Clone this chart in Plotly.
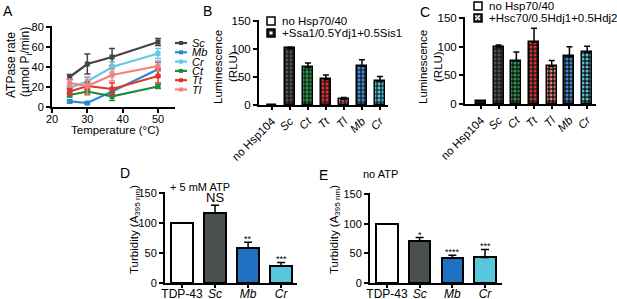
import plotly.graph_objects as go

W, H = 617, 299
FONT = "Liberation Sans, Arial, sans-serif"

# ---------------- data ----------------
# Panel A: ATPase rate vs temperature
temps = [25, 30, 37, 50]
a_names = ["Sc", "Mb", "Cr", "Ct", "Tt", "Tl"]
a_colors = ["#444444", "#2b86d4", "#62c9e6", "#1e8c3c", "#e3342c", "#f3827c"]
a_vals = {
    "Sc": [30, 43, 50, 65],
    "Mb": [5.6, 4, 15.5, 37.7],
    "Cr": [19, 25.5, 40, 53.5],
    "Ct": [12, 15.5, 10.6, 20.5],
    "Tt": [15.5, 21, 18, 31],
    "Tl": [24, 21, 32, 41],
}
a_errs = {
    "Sc": [2.5, 10, 8.5, 3.5],
    "Mb": [1.5, 1, 3, 7],
    "Cr": [3, 4, 5, 5],
    "Ct": [2, 3, 4, 2],
    "Tt": [3, 4, 6, 7],
    "Tl": [4, 9, 6, 5],
}

# Panels B and C: luminescence
bc_cats = ["no Hsp104", "Sc", "Ct", "Tt", "Tl", "Mb", "Cr"]
bc_ticktext = ["no Hsp104", "<i>Sc</i>", "<i>Ct</i>", "<i>Tt</i>", "<i>Tl</i>", "<i>Mb</i>", "<i>Cr</i>"]
bc_colors = ["#333333", "#505050", "#24a04a", "#d8302c", "#ec7a78", "#3a8ad8", "#4fc4e2"]
b_vals = [0, 101, 67, 45.6, 10, 69, 43]
b_errs = [0, 2, 8, 8, 3.5, 12, 8]
c_vals = [5.8, 99.4, 75.6, 108, 65.7, 83, 90.7]
c_errs = [0, 3.5, 15, 24, 10, 17, 10]

# Panels D and E: turbidity
de_cats = ["TDP-43", "Sc", "Mb", "Cr"]
de_ticktext = ["TDP-43", "<i>Sc</i>", "<i>Mb</i>", "<i>Cr</i>"]
de_colors = ["#ffffff", "#4a5050", "#1f70c0", "#58c6dc"]
d_vals = [100, 116.5, 58.8, 28.2]
d_errs = [0, 13, 9, 6]
d_sig = ["", "NS", "**", "***"]
e_vals = [100, 70.6, 41.8, 43]
e_errs = [0, 6, 5, 13.5]
e_sig = ["", "*", "****", "***"]

# ---------------- helpers ----------------
def xd(a, b):
    return [a / W, b / W]

def yd(top, bottom):
    return [1 - bottom / H, 1 - top / H]

def px(x):
    return x / W

def py(y):
    return 1 - y / H

axis_common = dict(
    showline=True, linecolor="black", linewidth=2,
    ticks="outside", ticklen=4, tickwidth=1.5, tickcolor="black",
    showgrid=False, zeroline=False, fixedrange=True, automargin=False,
    tickfont=dict(family=FONT, size=11, color="black"),
)

fig = go.Figure()

# ---------------- Panel A ----------------
for name, col in zip(a_names, a_colors):
    fig.add_trace(go.Scatter(
        x=temps, y=a_vals[name], mode="lines+markers",
        line=dict(color=col, width=2.2),
        marker=dict(color=col, size=5, symbol="square"),
        error_y=dict(type="data", array=a_errs[name], color=col, thickness=1.5, width=3),
        xaxis="x", yaxis="y", showlegend=False, name=name,
    ))

# ---------------- Panels B and C (one trace per bar, patterned) ----------------
for i, col in enumerate(bc_colors):
    fig.add_trace(go.Bar(
        x=[i], y=[b_vals[i]], width=0.56,
        marker=dict(color=col, line=dict(color="black", width=1.5),
                    pattern=dict(shape="+", fgcolor="#111111", bgcolor=col, size=4, solidity=0.5)),
        error_y=dict(type="data", symmetric=False, array=[b_errs[i]], arrayminus=[0],
                     color="black", thickness=1.5, width=3),
        xaxis="x2", yaxis="y2", showlegend=False,
    ))
    fig.add_trace(go.Bar(
        x=[i], y=[c_vals[i]], width=0.56,
        marker=dict(color=col, line=dict(color="black", width=1.5),
                    pattern=dict(shape=".", fgcolor=col, bgcolor="#1a1a1a", size=4, solidity=0.45)),
        error_y=dict(type="data", symmetric=False, array=[c_errs[i]], arrayminus=[0],
                     color="black", thickness=1.5, width=3),
        xaxis="x3", yaxis="y3", showlegend=False,
    ))

# ---------------- Panels D, E ----------------
for vals, errs, xa, ya in [(d_vals, d_errs, "x4", "y4"), (e_vals, e_errs, "x5", "y5")]:
    fig.add_trace(go.Bar(
        x=list(range(len(de_cats))), y=vals, width=0.66,
        marker=dict(color=de_colors, line=dict(color="black", width=2)),
        error_y=dict(type="data", symmetric=False, array=errs, arrayminus=[0] * len(errs),
                     color="black", thickness=1.5, width=4),
        xaxis=xa, yaxis=ya, showlegend=False,
    ))

# ---------------- axes ----------------
tf115 = dict(family=FONT, size=11.5, color="black")
tf12 = dict(family=FONT, size=12, color="black")
layout_axes = dict(
    xaxis=dict(axis_common, domain=xd(52, 175), range=[20, 54.8], tickvals=[20, 30, 40, 50], anchor="y",
               ticklabelstandoff=-3),
    yaxis=dict(axis_common, domain=yd(26, 107), range=[0, 81], tickvals=[0, 20, 40, 60, 80], anchor="x"),
    xaxis2=dict(axis_common, domain=xd(259, 388), range=[-0.72, 6.45],
                tickvals=list(range(7)), ticktext=bc_ticktext, tickangle=-45, ticklen=3, anchor="y2",
                tickfont=tf115),
    yaxis2=dict(axis_common, domain=yd(20, 105), range=[0, 151.8], tickvals=[0, 50, 100, 150], anchor="x2",
                tickfont=tf115),
    xaxis3=dict(axis_common, domain=xd(465, 596), range=[-0.9, 6.5],
                tickvals=list(range(7)), ticktext=bc_ticktext, tickangle=-45, ticklen=3, anchor="y3",
                tickfont=tf115),
    yaxis3=dict(axis_common, domain=yd(17, 104), range=[0, 151.7], tickvals=[0, 50, 100, 150], anchor="x3",
                tickfont=tf115),
    xaxis4=dict(axis_common, domain=xd(165, 297), range=[-0.515, 3.48],
                tickvals=list(range(4)), ticktext=de_ticktext, ticklen=3, anchor="y4",
                ticklabelstandoff=-4, tickfont=tf12),
    yaxis4=dict(axis_common, domain=yd(192, 283), range=[0, 151.7], tickvals=[0, 50, 100, 150], anchor="x4"),
    xaxis5=dict(axis_common, domain=xd(370, 502), range=[-0.52, 3.52],
                tickvals=list(range(4)), ticktext=de_ticktext, ticklen=3, anchor="y5",
                ticklabelstandoff=-4, tickfont=tf12),
    yaxis5=dict(axis_common, domain=yd(193, 283), range=[0, 151.7], tickvals=[0, 50, 100, 150], anchor="x5"),
)

annotations = []
shapes = []

def text(x, y, s, size=11, xanchor="center", yanchor="middle", angle=0, **kw):
    annotations.append(dict(
        x=px(x), y=py(y), xref="paper", yref="paper", text=s, showarrow=False,
        xanchor=xanchor, yanchor=yanchor, textangle=angle,
        font=dict(family=FONT, size=size, color="black"), **kw))

# panel letters
text(8, 11, "A", 14)
text(207, 11, "B", 14)
text(425, 12, "C", 14)
text(125, 173, "D", 14)
text(324, 175, "E", 14)

# axis titles
text(11, 65, "ATPase rate", 12, angle=-90)
text(26, 62, "(µmol P<sub>i</sub>/min)", 12, angle=-90)
text(115, 130, "Temperature (°C)", 11.5)
for cx in (218, 423):
    text(cx, 67, "Luminescence", 11.5, angle=-90)
for cx in (233, 438):
    text(cx, 67, "(RLU)", 11.5, angle=-90)
for cx in (135, 335):
    text(cx, 230, "Turbidity (A<sub>395 nm</sub>)", 11.5, angle=-90)

text(200, 187, "+ 5 mM ATP", 11)
text(380, 174, "no ATP", 11)

# significance labels
for sig, v, e, i, xa, ya in [(s, v, e, i, "x4", "y4") for i, (s, v, e) in enumerate(zip(d_sig, d_vals, d_errs))] + \
                           [(s, v, e, i, "x5", "y5") for i, (s, v, e) in enumerate(zip(e_sig, e_vals, e_errs))]:
    if not sig:
        continue
    big = sig == "NS"
    annotations.append(dict(
        x=i, y=v + e, xref=xa, yref=ya, text=sig, showarrow=False,
        xanchor="center", yanchor="bottom", yshift=-2 if big else -4,
        font=dict(family=FONT, size=13 if big else 9, color="black")))

# legend A (manual, compact)
for i, (name, col) in enumerate(zip(a_names, a_colors)):
    yy = 43 + 9.3 * i
    shapes.append(dict(type="line", xref="paper", yref="paper",
                       x0=px(175), x1=px(187), y0=py(yy), y1=py(yy),
                       line=dict(color=col, width=2.2)))
    shapes.append(dict(type="rect", xref="paper", yref="paper",
                       x0=px(179), x1=px(183), y0=py(yy + 2), y1=py(yy - 2),
                       fillcolor=col, line=dict(width=0)))
    text(190, yy, "<i>%s</i>" % name, 11, xanchor="left")

# legend B / C (manual)
def legend_box(x0, y0, s, kind):
    shapes.append(dict(type="rect", xref="paper", yref="paper",
                       x0=px(x0), x1=px(x0 + 8), y0=py(y0 + 8), y1=py(y0),
                       fillcolor="white" if kind == "white" else "#1a1a1a",
                       line=dict(color="black", width=1.5)))
    if kind == "grid":
        shapes.append(dict(type="rect", xref="paper", yref="paper",
                           x0=px(x0 + 2.5), x1=px(x0 + 5.5), y0=py(y0 + 5.5), y1=py(y0 + 2.5),
                           fillcolor="white", line=dict(width=0)))
    elif kind == "dots":
        for dx, dy in [(2, 2), (5, 2), (3.5, 3.5), (2, 5), (5, 5)]:
            shapes.append(dict(type="rect", xref="paper", yref="paper",
                               x0=px(x0 + dx - 0.8), x1=px(x0 + dx + 1.2),
                               y0=py(y0 + dy + 1.2), y1=py(y0 + dy - 0.8),
                               fillcolor="white", line=dict(width=0)))
    text(x0 + 13, y0 + 4, s, 11.5, xanchor="left")

legend_box(267, 17, "no Hsp70/40", "white")
legend_box(267, 29, "+Ssa1/0.5Ydj1+0.5Sis1", "grid")
legend_box(474, 2, "no Hsp70/40", "white")
legend_box(474, 14, "+Hsc70/0.5Hdj1+0.5Hdj2", "dots")

fig.update_layout(
    template="none",
    width=W, height=H, autosize=False,
    margin=dict(l=0, r=0, t=0, b=0, pad=0),
    paper_bgcolor="white", plot_bgcolor="white",
    font=dict(family=FONT, size=11, color="black"),
    annotations=annotations, shapes=shapes,
    showlegend=False, bargap=0, barmode="overlay",
    **layout_axes,
)

fig.write_html("out.html", config={"displayModeBar": False},
               post_script="document.body.style.margin='0';document.body.style.padding='0';")
